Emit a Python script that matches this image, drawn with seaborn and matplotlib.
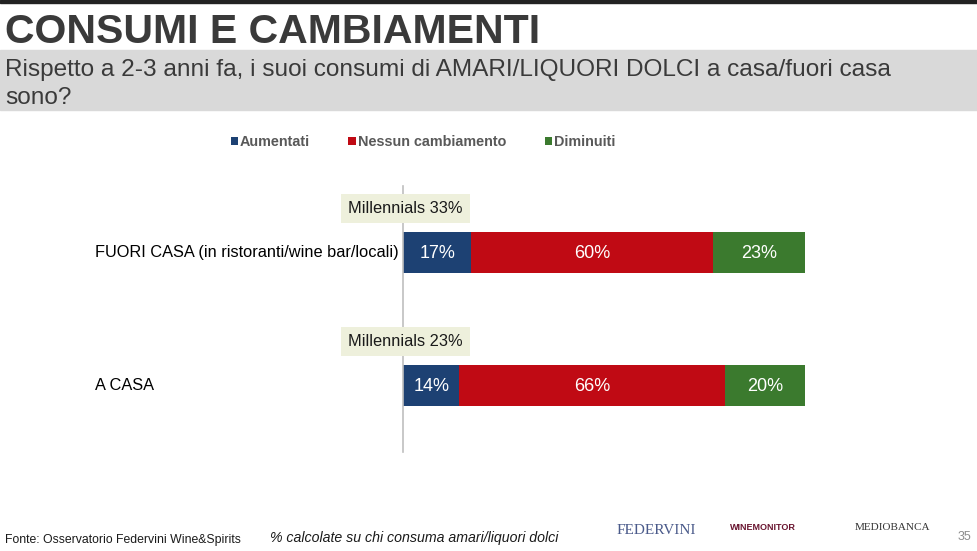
import pandas as pd
import matplotlib.pyplot as plt
import matplotlib.transforms as mtransforms
from matplotlib.patches import Patch, Rectangle
from matplotlib import font_manager
import seaborn as sns

# ── Data ──────────────────────────────────────────────────────────────────
CATEGORIES  = ["FUORI CASA (in ristoranti/wine bar/locali)", "A CASA"]
SERIES      = ["Aumentati", "Nessun cambiamento", "Diminuiti"]
AUMENTATI   = [17, 14]
NESSUN      = [60, 66]
DIMINUITI   = [23, 20]
MILLENNIALS = ["Millennials 33%", "Millennials 23%"]

COLORS = ["#1d4173", "#c00a14", "#3b7a2e"]

sns.set_theme(style="white")
names = {f.name for f in font_manager.fontManager.ttflist}
NARROW = "Liberation Sans Narrow" if "Liberation Sans Narrow" in names else "Liberation Sans"
plt.rcParams["font.family"] = ["Liberation Sans", "DejaVu Sans"]

df = pd.DataFrame({"cat": CATEGORIES, "a": AUMENTATI, "n": NESSUN, "d": DIMINUITI})
df["c1"] = df["a"]
df["c2"] = df["a"] + df["n"]
df["c3"] = df["a"] + df["n"] + df["d"]

W, H = 977, 551
fig = plt.figure(figsize=(W / 100, H / 100), dpi=100)
ax = fig.add_axes([403 / W, 1 - 452 / H, (805 - 403) / W, (452 - 186) / H])

# stacked bars: draw cumulative totals back to front
for col, color in zip(["c3", "c2", "c1"], COLORS[::-1]):
    sns.barplot(data=df, x=col, y="cat", orient="h", color=color, width=0.31,
                saturation=1, ax=ax, edgecolor="none")

ax.set_xlim(0, 100)
ax.set_ylim(1.5, -0.5)
ax.set_xlabel("")
ax.set_ylabel("")
ax.set_xticks([])
ax.set_yticks([])
for s in ["top", "right", "bottom"]:
    ax.spines[s].set_visible(False)
ax.spines["left"].set_color("#bfbfbf")
ax.spines["left"].set_linewidth(1.2)

# segment labels
for i, row in df.iterrows():
    starts = [0, row["c1"], row["c2"]]
    vals = [row["a"], row["n"], row["d"]]
    for s0, v in zip(starts, vals):
        ax.text(s0 + v / 2, i + 0.01, f"{v}%", ha="center", va="center",
                color="white", fontsize=13)
    ax.text(0.6, i - 0.33, MILLENNIALS[i], ha="center", va="center",
            fontsize=11.8, color="#1a1a1a", zorder=5,
            bbox=dict(boxstyle="square,pad=0.42", fc="#eef0dc", ec="none"))

# category labels, left aligned
trans = mtransforms.blended_transform_factory(fig.transFigure, ax.transData)
for i, cat in enumerate(CATEGORIES):
    ax.text(95 / W, i, cat, transform=trans, ha="left", va="center",
            fontsize=11.8, color="#000000")

# legend
handles = [Patch(facecolor=c, edgecolor="none") for c in COLORS]
leg = fig.legend(handles, SERIES, loc="center", bbox_to_anchor=(423 / W, 1 - 142.5 / H),
                 ncol=3, frameon=False, handlelength=0.5, handleheight=0.5,
                 handletextpad=0.15, columnspacing=2.65,
                 prop=dict(weight="bold", size=10.4))
for t in leg.get_texts():
    t.set_color("#595959")

# header
fig.add_artist(Rectangle((0, 1 - 2.5 / H), 1, 2.5 / H, transform=fig.transFigure,
                         color="#222222", zorder=0))
fig.add_artist(Rectangle((0, 1 - 110 / H), 1, 60 / H, transform=fig.transFigure,
                         color="#d9d9d9", zorder=0))
fig.text(5 / W, 1 - 32 / H, "CONSUMI E CAMBIAMENTI", ha="left", va="center",
         fontsize=29.5, weight="bold", color="#3a3a3a", family=NARROW)
fig.text(5 / W, 1 - 70 / H, "Rispetto a 2-3 anni fa, i suoi consumi di AMARI/LIQUORI DOLCI a casa/fuori casa",
         ha="left", va="center", fontsize=17.6, color="#3a3a3a", family=NARROW)
fig.text(5 / W, 1 - 98 / H, "sono?", ha="left", va="center", fontsize=17.6,
         color="#3a3a3a", family=NARROW)

# footer
fig.text(5 / W, 1 - 540 / H, "Fonte: Osservatorio Federvini Wine&Spirits", ha="left",
         va="center", fontsize=8.8, color="#1a1a1a", family=NARROW)
fig.text(270 / W, 1 - 538 / H, "% calcolate su chi consuma amari/liquori dolci", ha="left",
         va="center", fontsize=10.2, style="italic", color="#1a1a1a")
fig.text(617 / W, 1 - 530 / H, "FEDERVINI", ha="left", va="center", fontsize=11,
         color="#4a5a8a", family="Liberation Serif")
fig.text(730 / W, 1 - 528 / H, "WINEMONITOR", ha="left", va="center", fontsize=6.5,
         color="#6a1530", weight="bold")
fig.text(855 / W, 1 - 528 / H, "MEDIOBANCA", ha="left", va="center", fontsize=8,
         color="#333333", family="Liberation Serif")
fig.text(958 / W, 1 - 537 / H, "35", ha="left", va="center", fontsize=9, color="#8c8c8c")

fig.savefig("out.png", dpi=100)
